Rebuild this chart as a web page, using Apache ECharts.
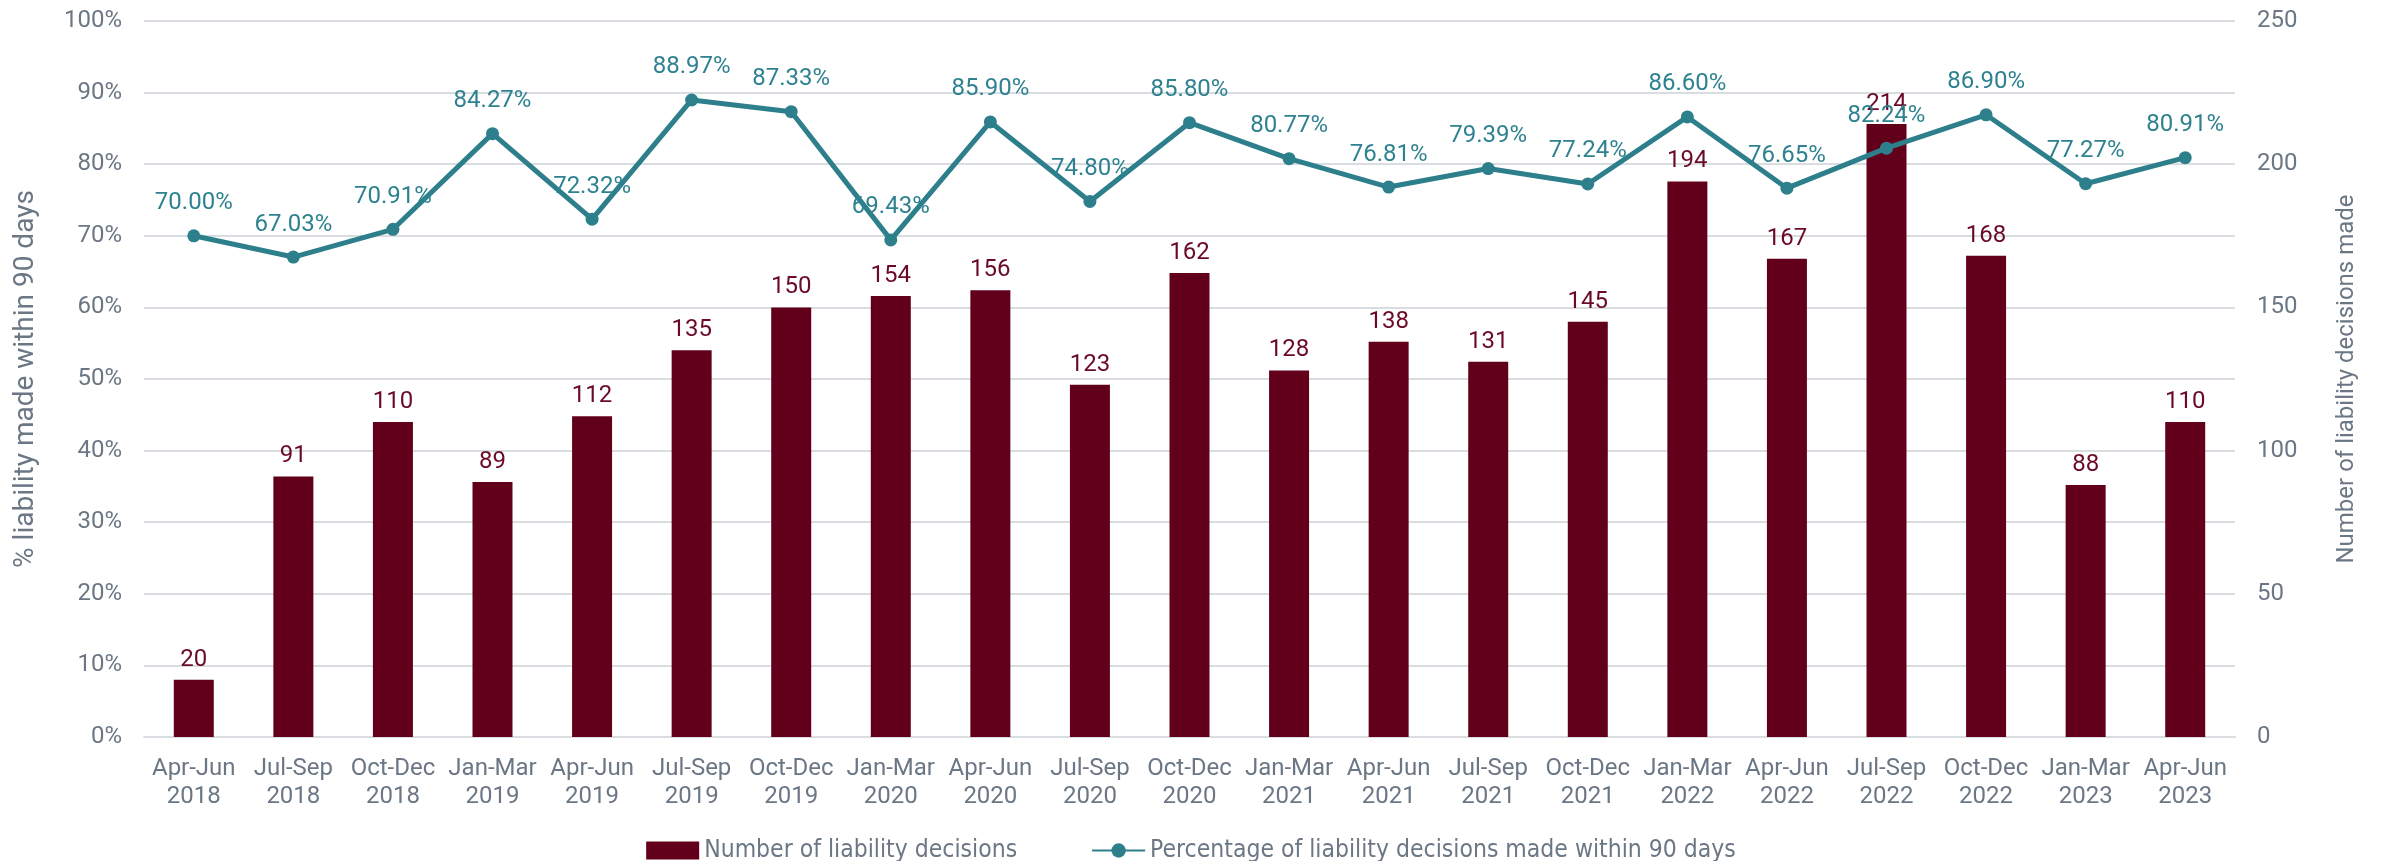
<!DOCTYPE html>
<html>
<head>
<meta charset="utf-8">
<script src="https://cdn.jsdelivr.net/npm/echarts@6/dist/echarts.min.js"></script>
<style>
  html, body { margin: 0; padding: 0; background: #fff; }
  #chart { width: 2382px; height: 861px; }
</style>
</head>
<body>
<div id="chart"></div>
<script>
// quarters
const categories = [
  "Apr-Jun\n2018", "Jul-Sep\n2018", "Oct-Dec\n2018", "Jan-Mar\n2019", "Apr-Jun\n2019",
  "Jul-Sep\n2019", "Oct-Dec\n2019", "Jan-Mar\n2020", "Apr-Jun\n2020", "Jul-Sep\n2020",
  "Oct-Dec\n2020", "Jan-Mar\n2021", "Apr-Jun\n2021", "Jul-Sep\n2021", "Oct-Dec\n2021",
  "Jan-Mar\n2022", "Apr-Jun\n2022", "Jul-Sep\n2022", "Oct-Dec\n2022", "Jan-Mar\n2023",
  "Apr-Jun\n2023"
];
const decisions = [20, 91, 110, 89, 112, 135, 150, 154, 156, 123, 162, 128, 138, 131, 145, 194, 167, 214, 168, 88, 110];
const pctWithin90 = [70.00, 67.03, 70.91, 84.27, 72.32, 88.97, 87.33, 69.43, 85.90, 74.80, 85.80,
  80.77, 76.81, 79.39, 77.24, 86.60, 76.65, 82.24, 86.90, 77.27, 80.91];

const font = "Roboto";
const grey = "#6b7785";
const barColor = "#62001b";
const lineColor = "#2e7f8c";

let chart = echarts.init(document.getElementById("chart"));
let option = {
  animation: false,
  grid: { left: 144, right: 147, top: 21, bottom: 124 },
  legend: {
    top: 838,
    left: "center",
    padding: 0,
    itemGap: 74,
    itemWidth: 53,
    itemHeight: 18,
    textStyle: { fontFamily: "'DejaVu Sans Condensed', sans-serif", fontSize: 24.5, color: grey },
    data: [
      { name: "Number of liability decisions", icon: "rect" },
      { name: "Percentage of liability decisions made within 90 days" }
    ]
  },
  xAxis: {
    type: "category",
    data: categories,
    axisLine: { show: true, lineStyle: { color: "#d9dde2", width: 2 } },
    axisTick: { show: false },
    axisLabel: { fontFamily: font, fontSize: 24, color: grey, margin: 18, lineHeight: 28, interval: 0 }
  },
  yAxis: [
    {
      type: "value",
      min: 0, max: 100, interval: 10,
      name: "% liability made within 90 days",
      nameLocation: "middle",
      nameGap: 104,
      nameTextStyle: { fontFamily: font, fontSize: 28, color: grey },
      axisLabel: { formatter: "{value}%", fontFamily: font, fontSize: 24, color: grey, margin: 22 },
      axisLine: { show: false },
      axisTick: { show: false },
      splitLine: { lineStyle: { color: "#d9dde2", width: 2 } }
    },
    {
      type: "value",
      min: 0, max: 250, interval: 50,
      name: "Number of liability decisions made",
      nameLocation: "middle",
      nameGap: 100,
      nameRotate: 90,
      nameTextStyle: { fontFamily: font, fontSize: 24, color: grey },
      axisLabel: { fontFamily: font, fontSize: 24, color: grey, margin: 22 },
      axisLine: { show: false },
      axisTick: { show: false },
      splitLine: { show: false }
    }
  ],
  series: [
    {
      name: "Number of liability decisions",
      type: "bar",
      yAxisIndex: 1,
      data: decisions,
      barWidth: 40,
      itemStyle: { color: barColor },
      label: { show: true, position: "top", distance: 8, fontFamily: font, fontSize: 24, color: "#6b0a26" }
    },
    {
      name: "Percentage of liability decisions made within 90 days",
      type: "line",
      yAxisIndex: 0,
      data: pctWithin90,
      symbol: "circle",
      symbolSize: 13,
      lineStyle: { color: lineColor, width: 5 },
      itemStyle: { color: lineColor },
      label: {
        show: true, position: "top", distance: 14,
        fontFamily: font, fontSize: 24, color: "#2e8290",
        formatter: p => p.value.toFixed(2) + "%"
      },
      z: 3
    }
  ]
};
chart.setOption(option);
</script>
</body>
</html>
